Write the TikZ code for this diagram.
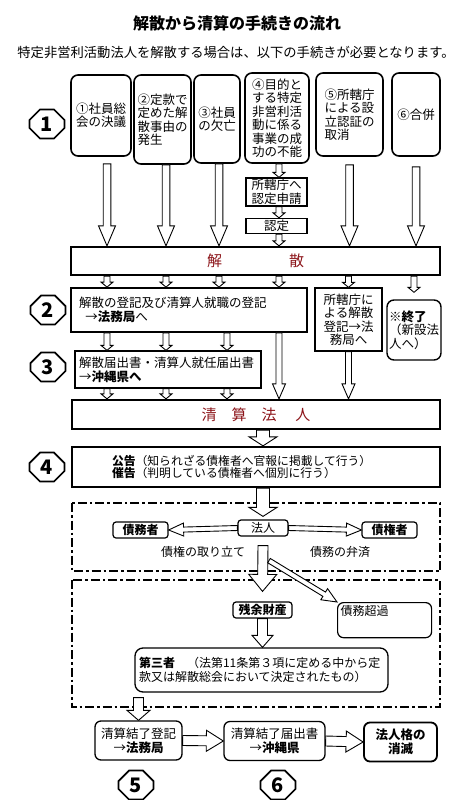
\documentclass[tikz,border=0pt]{standalone}
\usepackage{fontspec}
\setmainfont{Noto Sans CJK JP}
\usetikzlibrary{calc,shapes.misc}
\definecolor{dunkelrot}{RGB}{140,20,25}
\tikzset{
  pfeil/.style n args={3}{draw, fill=white, line width=0.9pt, to path={
      ($(\tikztotarget)!#3!(\tikztostart)$) coordinate (hh)
      ($(\tikztostart)!#1!90:(\tikztotarget)$) -- ($(hh)!#1!90:(\tikztotarget)$)
      -- ($(hh)!#2!90:(\tikztotarget)$) -- (\tikztotarget)
      -- ($(hh)!#2!-90:(\tikztotarget)$) -- ($(hh)!#1!-90:(\tikztotarget)$)
      -- ($(\tikztostart)!#1!-90:(\tikztotarget)$) -- cycle}},
  grosspfeil/.style={pfeil={3.8pt}{8.5pt}{20pt}},
  kleinpfeil/.style={pfeil={3pt}{6pt}{5pt}},
  mittelpfeil/.style={pfeil={3pt}{6.5pt}{15pt}},
  breitpfeil/.style={pfeil={6.5pt}{14pt}{9pt}},
  fallpfeil/.style={pfeil={5pt}{14pt}{17pt}},
  querpfeil/.style={pfeil={2.5pt}{6.5pt}{15pt}},
  endpfeil/.style={pfeil={5pt}{10.5pt}{17pt}},
  nummer/.style={chamfered rectangle, chamfered rectangle xsep=7pt, draw, line width=1.6pt,
    minimum width=35pt, minimum height=29pt, inner sep=0pt, font=\bfseries\fontsize{20}{20}\selectfont},
  grund/.style={draw, rounded corners=7pt, line width=1.6pt, align=left, inner sep=1.5pt,
    font=\fontsize{12.5}{13.5}\selectfont},
  schmal/.style={draw, line width=1.3pt, align=center, inner sep=1pt, font=\fontsize{12.5}{13.5}\selectfont},
  balken/.style={draw, line width=2.3pt, text=dunkelrot, font=\fontsize{15}{15}\selectfont},
  klein/.style={draw, rounded corners=3pt, line width=1.2pt, minimum height=16pt, inner sep=1pt,
    font=\fontsize{12}{12}\selectfont},
  ende/.style={draw, rounded corners=6pt, line width=1.3pt, minimum height=39pt, align=center,
    font=\fontsize{12.5}{14}\selectfont},
  strichpunkt/.style={line width=2pt, dash pattern=on 9pt off 3pt on 2.5pt off 3pt}
}
\begin{document}
\begin{tikzpicture}[x=1pt, y=-1pt]
  \fill[white] (0,0) rectangle (473,800);
  \useasboundingbox (0,0) rectangle (473,800);

  % Ueberschrift
  \node[font=\bfseries\fontsize{16}{16}\selectfont] (titel) at (237,23) {解散から清算の手続きの流れ};
  \node[font=\fontsize{13.3}{14}\selectfont] (untertitel) at (236,52) {特定非営利活動法人を解散する場合は、以下の手続きが必要となります。};

  % Spalten fuer die Pfeile
  \coordinate (sp1) at (107,0);
  \coordinate (sp2) at (166,0);
  \coordinate (sp3) at (219,0);
  \coordinate (sp3b) at (227,0);
  \coordinate (sp4) at (279,0);

  % Schritt 1: Gruende
  \node[nummer] (n1) at (47,124) {1};
  \node[grund, minimum width=60pt, minimum height=81pt] (g1) at (101,115.5) {①社員総\\会の決議};
  \node[grund, minimum width=57pt, minimum height=89pt] (g2) at (162.5,119.5) {②定款で\\定めた解\\散事由の\\発生};
  \node[grund, minimum width=46pt, minimum height=88pt] (g3) at (217,119) {③社員\\の欠亡};
  \node[grund, minimum width=64pt, minimum height=90pt] (g4) at (277,118) {④目的と\\する特定\\非営利活\\動に係る\\事業の成\\功の不能};
  \node[grund, minimum width=67pt, minimum height=83pt] (g5) at (349.5,114.5) {⑤所轄庁\\による設\\立認証の\\取消};
  \node[grund, minimum width=48pt, minimum height=83pt] (g6) at (416,114.5) {⑥合併};
  \node[schmal, minimum width=61pt, minimum height=28pt] (antrag) at (276.5,192) {所轄庁へ\\認定申請};
  \node[schmal, minimum width=61pt, minimum height=15pt, inner ysep=0pt] (nintei) at (276.5,226) {認定};

  % Aufloesung
  \node[balken, minimum width=369pt, minimum height=28pt] (kaisan) at (255.5,261) {解\hspace{67pt}散};

  % Schritt 2 und 3
  \node[nummer] (n2) at (48,310) {2};
  \node[draw, line width=1.8pt, minimum height=44pt, text width=220pt, inner xsep=8pt, align=left,
    font=\fontsize{12.5}{14}\selectfont] (toki) at (189,310) {解散の登記及び清算人就職の登記\\\hspace{0.5em}→\textbf{法務局}へ};
  \node[schmal, minimum width=67pt, minimum height=63pt] (kantoki) at (348.5,319.5) {所轄庁に\\よる解散\\登記→法\\務局へ};
  \node[grund, line width=1.4pt, minimum width=54pt, minimum height=60pt] (shuryo) at (414,330) {\textbf{※終了}\\（新設法\\人へ）};
  \node[nummer] (n3) at (48,367) {3};
  \node[draw, line width=1.3pt, minimum height=37pt, text width=178pt, inner xsep=4pt, align=left,
    font=\fontsize{12.5}{14}\selectfont] (todoke) at (168,369.5) {解散届出書・清算人就任届出書\\→\textbf{沖縄県へ}};

  % Liquidationsverein
  \node[balken, minimum width=368pt, minimum height=29pt] (seisan) at (256,414.5) {清\hspace{15pt}算\hspace{15pt}法\hspace{19pt}人};

  % Schritt 4
  \node[nummer] (n4) at (47,467) {4};
  \node[draw, line width=2.3pt, minimum height=40pt, text width=288pt, inner xsep=40pt, align=left,
    font=\fontsize{11.8}{12.5}\selectfont] (koukoku) at (256,467) {\textbf{公告}（知られざる債権者へ官報に掲載して行う）\\\textbf{催告}（判明している債権者へ個別に行う）};

  % Forderungen und Schulden
  \draw[strichpunkt] (72,503) rectangle (440,571);
  \node[klein, minimum width=50pt] (hojin) at (263,528) {法人};
  \node[klein, minimum width=55pt, font=\bfseries\fontsize{12}{12}\selectfont] (saimu) at (140.5,530) {債務者};
  \node[klein, minimum width=55pt, font=\bfseries\fontsize{12}{12}\selectfont] (saiken) at (389.5,530) {債権者};
  \node[font=\fontsize{12}{12}\selectfont] (tori) at (203,552) {債権の取り立て};
  \node[font=\fontsize{12}{12}\selectfont] (bensai) at (340,552) {債務の弁済};

  % Restvermoegen
  \draw[strichpunkt] (72,580) rectangle (440,707);
  \node[klein, minimum width=59pt, font=\bfseries\fontsize{12}{12}\selectfont] (zanyo) at (262.5,610) {残余財産};
  \node[draw, rounded corners=6pt, line width=1.2pt, text width=88pt, inner sep=3pt, text depth=19pt,
    align=left, font=\fontsize{12}{12}\selectfont, anchor=north west] (chouka) at (337,602) {債務超過};
  \node[draw, rounded corners=8pt, line width=1.3pt, minimum height=44pt, text width=245pt, inner xsep=4pt,
    align=left, font=\fontsize{12}{14}\selectfont] (daisan) at (261.5,670) {\textbf{第三者}　（法第11条第３項に定める中から定\\款又は解散総会において決定されたもの）};

  % Schritt 5 und 6
  \node[ende, minimum width=87pt] (ketsu1) at (138.5,740.5) {清算結了登記\\→\textbf{法務局}};
  \node[ende, minimum width=101pt] (ketsu2) at (274.5,741) {清算結了届出書\\→\textbf{沖縄県}};
  \node[ende, line width=1.8pt, minimum width=73pt, font=\bfseries\fontsize{12.5}{14}\selectfont] (shometsu) at (400.5,742) {法人格の\\消滅};
  \node[nummer] (n5) at (136,785) {5};
  \node[nummer] (n6) at (278,785) {6};

  % Pfeile oben
  \draw[grosspfeil] ([yshift=-7pt]g1.south -| sp1) to (kaisan.north -| sp1);
  \draw[grosspfeil] (g2.south -| sp2) to (kaisan.north -| sp2);
  \draw[grosspfeil] (g3.south -| sp3) to (kaisan.north -| sp3);
  \draw[grosspfeil] ([yshift=-8pt]g5.south) to (kaisan.north -| g5.south);
  \draw[grosspfeil] ([yshift=-10pt]g6.south) to (kaisan.north -| g6.south);
  \draw[kleinpfeil] (g4.south -| sp4) to (antrag.north -| sp4);
  \draw[kleinpfeil] (antrag.south -| sp4) to (nintei.north -| sp4);
  \draw[kleinpfeil] (nintei.south -| sp4) to (kaisan.north -| sp4);

  % Pfeile Mitte
  \draw[kleinpfeil] (kaisan.south -| sp1) to (toki.north -| sp1);
  \draw[kleinpfeil] (kaisan.south -| sp2) to (toki.north -| sp2);
  \draw[kleinpfeil] (kaisan.south -| sp3) to (toki.north -| sp3);
  \draw[kleinpfeil] (kaisan.south -| sp4) to (toki.north -| sp4);
  \draw[kleinpfeil] (kaisan.south -| kantoki.north) to (kantoki.north);
  \draw[kleinpfeil] (kaisan.south -| shuryo.north) to ([yshift=7pt]shuryo.north);
  \draw[kleinpfeil] (toki.south -| sp1) to (todoke.north -| sp1);
  \draw[kleinpfeil] (toki.south -| sp2) to (todoke.north -| sp2);
  \draw[kleinpfeil] (toki.south -| sp3b) to (todoke.north -| sp3b);
  \draw[kleinpfeil] (todoke.south -| sp1) to (seisan.north -| sp1);
  \draw[kleinpfeil] (todoke.south -| sp2) to (seisan.north -| sp2);
  \draw[kleinpfeil] (todoke.south -| sp3b) to (seisan.north -| sp3b);
  \draw[mittelpfeil] (toki.south -| sp4) to (seisan.north -| sp4);
  \draw[mittelpfeil] (kantoki.south) to (seisan.north -| kantoki.south);

  % Pfeile unten
  \draw[breitpfeil] (seisan.south -| hojin.north) to (koukoku.north -| hojin.north);
  \draw[breitpfeil] (koukoku.south -| hojin.north) to ([yshift=3pt]hojin.north);
  \draw[querpfeil] (hojin.west) to (saimu.east);
  \draw[querpfeil] (hojin.east) to (saiken.west);
  \draw[fallpfeil] ([yshift=-9pt]hojin.south) to ([yshift=10pt]zanyo.north);
  \draw[querpfeil] ([xshift=6pt,yshift=-24pt]hojin.south) to (chouka.north west);
  \draw[pfeil={5pt}{10.5pt}{12pt}] (zanyo.south) to (daisan.north -| zanyo.south);
  \draw[pfeil={5pt}{11.5pt}{10pt}] ([yshift=-5pt]daisan.south -| ketsu1.north) to (ketsu1.north);
  \draw[endpfeil] (ketsu1.east) to (ketsu2.west);
  \draw[endpfeil] (ketsu2.east) to (shometsu.west);
\end{tikzpicture}
\end{document}
